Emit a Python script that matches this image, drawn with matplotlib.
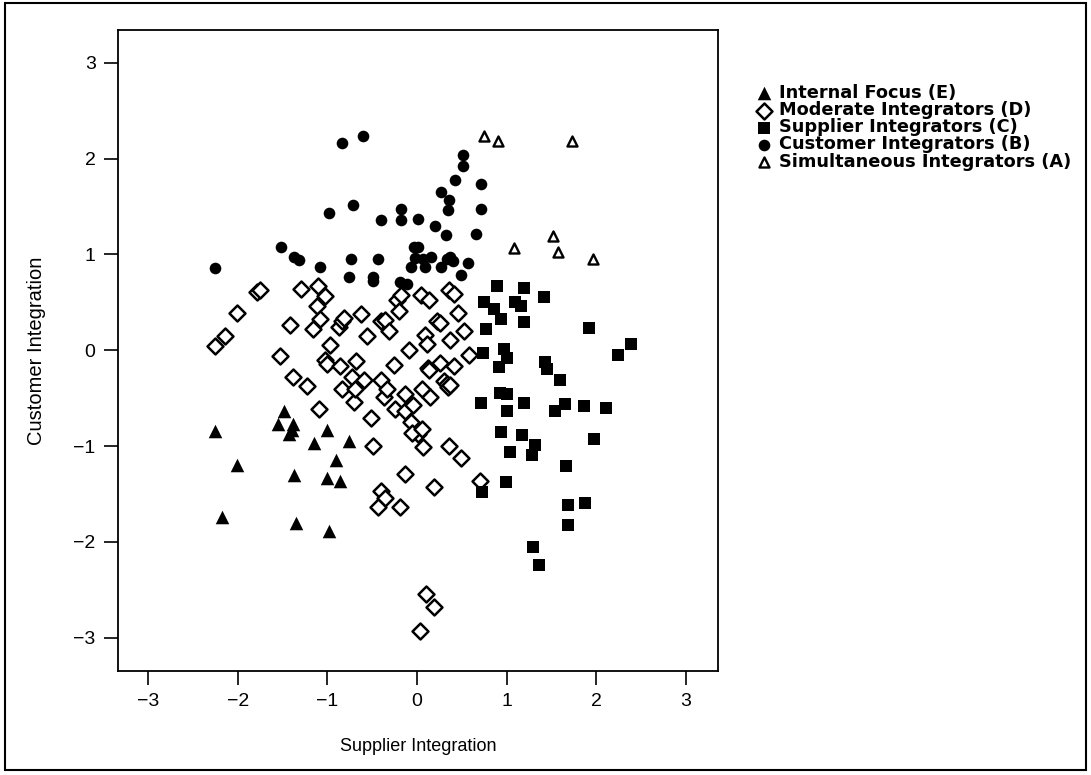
import matplotlib
matplotlib.use("Agg")
import matplotlib.pyplot as plt
from matplotlib.patches import Rectangle

plt.rcParams['font.family'] = ['Liberation Sans', 'DejaVu Sans']

# Internal Focus (E)
e_x = [-2.25, -2.01, -2.18, -1.48, -1.55, -1.38, -1.43, -1.40, -1.37, -1.35,
       -1.15, -1.00, -0.76, -0.90, -1.00, -0.86, -0.98]
e_y = [-0.84, -1.20, -1.74, -0.63, -0.77, -0.77, -0.87, -0.83, -1.30, -1.80,
       -0.97, -0.83, -0.95, -1.15, -1.33, -1.36, -1.89]

# Moderate Integrators (D)
d_x = [-2.26, -2.14, -2.01, -1.79, -1.75, -1.53, -1.42, -1.38, -1.29, -1.23,
       -1.10, -1.09, -1.12, -1.03, -1.16, -1.08, -0.97, -1.03, -1.01, -0.87,
       -0.84, -0.81, -0.86, -0.84, -0.68, -0.72, -0.70, -0.63, -0.69, -0.56,
       -0.59, -0.51, -0.49, -0.40, -0.36, -0.40, -0.37, -0.34, -0.31, -0.26,
       -0.24, -0.40, -0.36, -0.43, -0.19, -0.13, -0.22, -0.18, -0.20, -0.13,
       -0.09, -0.13, -0.07, -0.04, 0.01, -0.05, 0.06, 0.07, 0.05, 0.14,
       0.09, 0.11, 0.12, 0.14, 0.06, 0.15, 0.19, 0.22, 0.26, 0.26,
       0.30, 0.33, 0.35, 0.37, 0.36, 0.36, 0.41, 0.37, 0.41, 0.46,
       0.52, 0.49, 0.58, 0.70, 0.10, 0.19, 0.03]
d_y = [0.04, 0.15, 0.39, 0.61, 0.63, -0.06, 0.26, -0.28, 0.64, -0.37,
       0.67, -0.61, 0.46, 0.57, 0.22, 0.33, 0.05, -0.10, -0.14, 0.24,
       0.30, 0.34, -0.17, -0.40, -0.11, -0.28, -0.54, 0.38, -0.41, 0.15,
       -0.31, -0.71, -1.00, 0.31, 0.32, -0.31, -0.49, -0.41, 0.20, -0.15,
       -0.61, -1.47, -1.54, -1.64, -1.64, -1.29, 0.52, 0.58, 0.41, -0.46,
       0.00, -0.63, -0.75, -0.57, -0.87, -0.86, -0.82, -1.01, 0.58, 0.52,
       0.16, 0.07, -0.19, -0.21, -0.40, -0.49, -1.43, 0.31, 0.28, -0.13,
       -0.32, -0.35, -0.38, -0.36, -1.00, 0.63, 0.59, 0.11, -0.16, 0.39,
       0.20, -1.13, -0.05, -1.36, -2.54, -2.68, -2.93]

# Supplier Integrators (C)
c_x = [0.89, 1.19, 1.42, 0.75, 0.86, 1.09, 1.16, 0.94, 1.19, 0.77,
       1.92, 2.39, 2.24, 0.74, 0.97, 1.00, 0.92, 1.43, 1.45, 1.60,
       0.72, 0.93, 1.01, 1.19, 1.01, 1.54, 1.65, 1.87, 2.11, 0.94,
       1.17, 1.32, 1.98, 1.29, 1.04, 1.66, 0.99, 0.73, 1.69, 1.88,
       1.69, 1.30, 1.36]
c_y = [0.67, 0.65, 0.56, 0.50, 0.43, 0.50, 0.46, 0.33, 0.29, 0.22,
       0.23, 0.06, -0.05, -0.03, 0.01, -0.08, -0.18, -0.12, -0.20, -0.31,
       -0.55, -0.45, -0.46, -0.55, -0.63, -0.63, -0.56, -0.58, -0.60, -0.85,
       -0.88, -0.99, -0.93, -1.09, -1.06, -1.21, -1.38, -1.48, -1.62, -1.59,
       -1.82, -2.05, -2.24]

# Customer Integrators (B)
b_x = [-2.26, -1.52, -1.37, -1.32, -1.08, -0.98, -0.84, -0.74, -0.76, -0.71,
       -0.60, -0.49, -0.49, -0.43, -0.40, -0.18, -0.18, -0.19, -0.11, -0.07,
       -0.03, 0.01, -0.02, 0.01, 0.07, 0.09, 0.16, 0.20, 0.27, 0.32,
       0.27, 0.33, 0.35, 0.36, 0.37, 0.40, 0.42, 0.49, 0.51, 0.51,
       0.57, 0.66, 0.71, 0.71]
b_y = [0.86, 1.08, 0.97, 0.94, 0.87, 1.43, 2.16, 0.95, 0.76, 1.52,
       2.24, 0.76, 0.72, 0.95, 1.36, 1.47, 1.36, 0.71, 0.69, 0.87,
       1.08, 1.37, 0.96, 1.08, 0.95, 0.87, 0.97, 1.30, 1.65, 1.20,
       0.87, 0.95, 1.46, 1.57, 0.97, 0.93, 1.78, 0.79, 2.04, 1.92,
       0.91, 1.21, 1.73, 1.47]

# Simultaneous Integrators (A)
a_x = [0.75, 0.91, 1.73, 1.52, 1.08, 1.58, 1.97]
a_y = [2.24, 2.18, 2.18, 1.19, 1.07, 1.03, 0.95]

fig = plt.figure(figsize=(10.91, 7.75), dpi=100)
ax = fig.add_axes([0.108, 0.134, 0.550, 0.827])

ax.scatter(e_x, e_y, marker='^', s=95, color='black', linewidths=0,
           label='Internal Focus (E)')
ax.scatter(d_x, d_y, marker='D', s=66, facecolors='white', edgecolors='black',
           linewidths=1.8, label='Moderate Integrators (D)')
ax.scatter(c_x, c_y, marker='s', s=64, color='black', linewidths=0,
           label='Supplier Integrators (C)')
ax.scatter(b_x, b_y, marker='o', s=70, color='black', linewidths=0,
           label='Customer Integrators (B)')
ax.scatter(a_x, a_y, marker='^', s=52, facecolors='white', edgecolors='black',
           linewidths=1.7, label='Simultaneous Integrators (A)')

ax.set_xlim(-3.34, 3.36)
ax.set_ylim(-3.35, 3.34)
ax.set_xticks([-3, -2, -1, 0, 1, 2, 3])
ax.set_yticks([-3, -2, -1, 0, 1, 2, 3])
ax.tick_params(direction='out', length=10, width=1.2, labelsize=14, pad=6)
for sp in ax.spines.values():
    sp.set_linewidth(1.3)

ax.set_xlabel('Supplier Integration', fontsize=13, labelpad=20)
ax.set_ylabel('Customer Integration', fontsize=14.5, labelpad=20)

leg = ax.legend(loc='upper left', bbox_to_anchor=(1.05, 0.927), frameon=False,
                prop={'family': 'DejaVu Sans', 'weight': 'bold', 'size': 12.8},
                labelspacing=-0.05, handletextpad=0.35,
                handlelength=1.0, borderaxespad=0)

fig.patches.append(Rectangle((0.005, 0.006), 0.99, 0.99, fill=False,
                             edgecolor='black', linewidth=1.5,
                             transform=fig.transFigure, figure=fig))

fig.savefig('out.png', dpi=100)
